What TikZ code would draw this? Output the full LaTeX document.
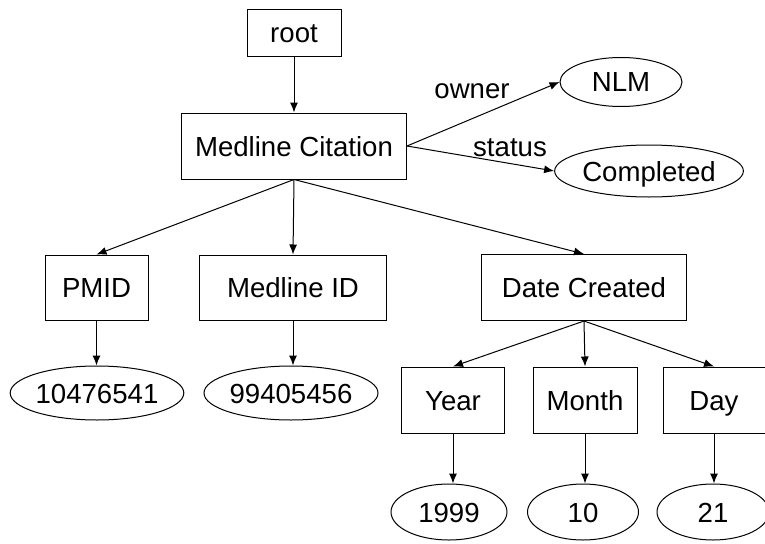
\documentclass[tikz,border=0pt]{standalone}
\usepackage{fontspec}
\setmainfont{Liberation Sans}
\usetikzlibrary{shapes.geometric,arrows.meta}
\begin{document}
\begin{tikzpicture}[x=1pt,y=-1pt,
  every node/.style={font=\fontsize{27.6}{33}\selectfont, inner sep=0pt,
    text height=20pt, text depth=0pt},
  elem/.style={draw, rectangle, line width=1pt},
  val/.style={draw, ellipse, line width=1pt},
  link/.style={line width=1pt, -{Latex[length=10pt,width=8pt]}},
  lbl/.style={}]
  \useasboundingbox (0,0) rectangle (765,543);

  % element boxes
  \node[elem, minimum width=94, minimum height=47] (root) at (294,33) {root};
  \node[elem, minimum width=225, minimum height=66] (cit) at (294,146) {Medline Citation};
  \node[elem, minimum width=103, minimum height=65] (pmid) at (96.5,287.5) {PMID};
  \node[elem, minimum width=187, minimum height=65] (mid) at (293,287.5) {Medline ID};
  \node[elem, minimum width=205, minimum height=66] (date) at (584,287.5) {Date Created};
  \node[elem, minimum width=103, minimum height=66] (year) at (453,400) {Year};
  \node[elem, minimum width=104, minimum height=66] (month) at (585,400) {Month};
  \node[elem, minimum width=102, minimum height=66] (day) at (714,400) {Day};

  % value ellipses
  \node[val, minimum width=122, minimum height=49] (nlm) at (621,82) {NLM};
  \node[val, minimum width=188, minimum height=52] (comp) at (649,171) {Completed};
  \node[val, minimum width=170, minimum height=54] (v1) at (97,393) {10476541};
  \node[val, minimum width=174, minimum height=54] (v2) at (291,393) {99405456};
  \node[val, minimum width=116, minimum height=56] (vy) at (449,512) {1999};
  \node[val, minimum width=111, minimum height=56] (vm) at (583,512) {10};
  \node[val, minimum width=112, minimum height=56] (vd) at (713,512) {21};

  % attribute labels
  \node[lbl] (lown) at (472,88) {owner};
  \node[lbl] (lstat) at (510,146) {status};

  % connectors
  \draw[link] (root) -- (cit);
  \draw[link] (cit.east) -- (nlm.west);
  \draw[link] (cit.east) -- (comp.west);
  \draw[link] (cit.south) -- (pmid.north);
  \draw[link] (cit.south) -- (mid.north);
  \draw[link] (cit.south) -- (date.north);
  \draw[link] (pmid.south) -- (pmid.south |- v1.north);
  \draw[link] (mid.south) -- (mid.south |- v2.north);
  \draw[link] (date.south) -- (year.north);
  \draw[link] (date.south) -- (month.north);
  \draw[link] (date.south) -- (day.north);
  \draw[link] (year.south) -- (year.south |- vy.north);
  \draw[link] (month.south) -- (month.south |- vm.north);
  \draw[link] (day.south) -- (day.south |- vd.north);
\end{tikzpicture}
\end{document}
